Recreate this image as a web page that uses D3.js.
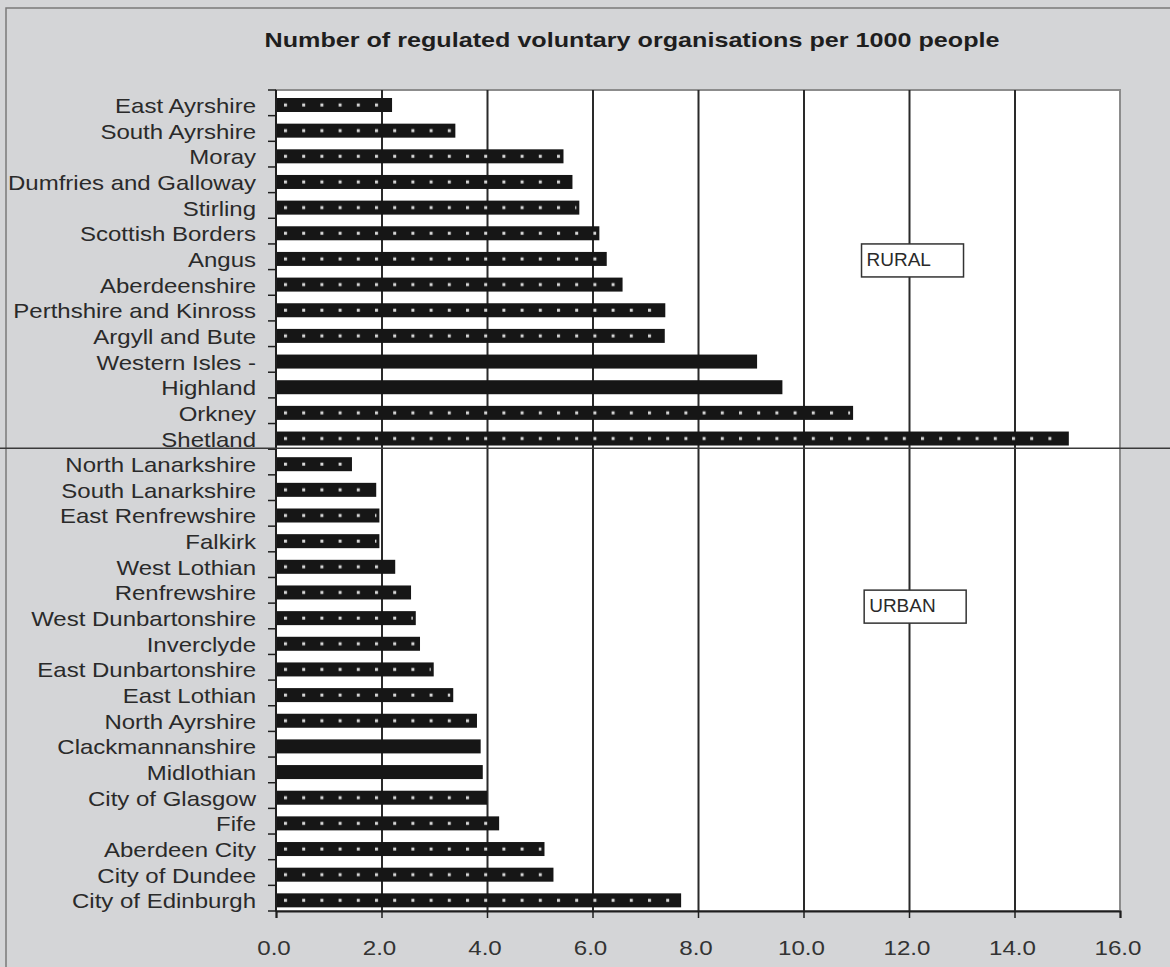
<!DOCTYPE html>
<html>
<head>
<meta charset="utf-8">
<script src="https://cdn.jsdelivr.net/npm/d3@7/dist/d3.min.js"></script>
<style>
  html, body { margin: 0; padding: 0; background: #d4d5d7; }
  svg { display: block; }
</style>
</head>
<body>
<svg id="chart" width="1170" height="967"></svg>
<script>
// ---------------- DATA ----------------
const ruralNames = ["East Ayrshire", "South Ayrshire", "Moray", "Dumfries and Galloway", "Stirling",
  "Scottish Borders", "Angus", "Aberdeenshire", "Perthshire and Kinross", "Argyll and Bute",
  "Western Isles -", "Highland", "Orkney", "Shetland"];
const ruralValues = [2.2, 3.4, 5.45, 5.62, 5.75, 6.13, 6.27, 6.57, 7.38, 7.37, 9.12, 9.6, 10.94, 15.03];

const urbanNames = ["North Lanarkshire", "South Lanarkshire", "East Renfrewshire", "Falkirk", "West Lothian",
  "Renfrewshire", "West Dunbartonshire", "Inverclyde", "East Dunbartonshire", "East Lothian",
  "North Ayrshire", "Clackmannanshire", "Midlothian", "City of Glasgow", "Fife", "Aberdeen City",
  "City of Dundee", "City of Edinburgh"];
const urbanValues = [1.44, 1.9, 1.96, 1.96, 2.26, 2.56, 2.65, 2.73, 2.99, 3.36, 3.81, 3.88, 3.92, 4.0, 4.23, 5.09, 5.26, 7.68];

const xTicks = [0, 2, 4, 6, 8, 10, 12, 14, 16];
const titleText = "Number of regulated voluntary organisations per 1000 people";
const groupLabels = ["RURAL", "URBAN"];

// ---------------- BUILD ----------------
const rows = ruralNames.map((n, i) => ({ name: n, value: ruralValues[i], group: "RURAL" }))
  .concat(urbanNames.map((n, i) => ({ name: n, value: urbanValues[i], group: "URBAN" })));
const solidBars = new Set(["Western Isles -", "Highland", "Clackmannanshire", "Midlothian"]);

const svg = d3.select("#chart");
const W = 1170, H = 967;
const plot = { left: 276, right: 1120, top: 90, bottom: 911 };

const x = d3.scaleLinear().domain([0, 16]).range([plot.left, plot.right]);
const y = d3.scaleBand().domain(rows.map(d => d.name)).range([plot.top, plot.bottom]).padding(0);
const bw = y.bandwidth();

// background + outer frame
svg.append("rect").attr("x", 0).attr("y", 0).attr("width", W).attr("height", H).attr("fill", "#d4d5d7");
svg.append("path").attr("d", `M6,${H} L6,8 L${W},8`).attr("fill", "none").attr("stroke", "#7a7a7a").attr("stroke-width", 1.5);

// title
svg.append("text")
  .attr("x", 632).attr("y", 47)
  .attr("text-anchor", "middle")
  .attr("font-family", "Liberation Sans, Arial, sans-serif")
  .attr("font-weight", "bold")
  .attr("font-size", 21)
  .attr("fill", "#1e1e1e")
  .attr("textLength", 735).attr("lengthAdjust", "spacingAndGlyphs")
  .text(titleText);

// plot area
svg.append("rect")
  .attr("x", plot.left).attr("y", plot.top)
  .attr("width", plot.right - plot.left).attr("height", plot.bottom - plot.top)
  .attr("fill", "#ffffff").attr("stroke", "#8c8c8c").attr("stroke-width", 2);

// gridlines via axis
const grid = svg.append("g")
  .attr("transform", `translate(0,${plot.bottom})`)
  .call(d3.axisBottom(x).tickValues(xTicks.filter(t => t > 0 && t < 16)).tickSize(-(plot.bottom - plot.top)).tickFormat(""));
grid.select(".domain").remove();
grid.selectAll("line").attr("stroke", "#2a2a2a").attr("stroke-width", 2);

// pattern for dotted bars
const defs = svg.append("defs");
const pat = defs.append("pattern")
  .attr("id", "dots").attr("patternUnits", "userSpaceOnUse")
  .attr("width", 18.2).attr("height", bw)
  .attr("x", x(0) + 8).attr("y", plot.top);
pat.append("rect").attr("x", 0).attr("y", 13.5).attr("width", 3).attr("height", 3).attr("fill", "#d8d8d8");

// bars
const barTop = 8, barH = 14;
const bars = svg.append("g");
bars.selectAll("rect.bar").data(rows).join("rect")
  .attr("class", "bar")
  .attr("x", x(0))
  .attr("y", d => y(d.name) + barTop)
  .attr("width", d => x(d.value) - x(0))
  .attr("height", barH)
  .attr("fill", "#161616");
bars.selectAll("rect.dot").data(rows.filter(d => !solidBars.has(d.name))).join("rect")
  .attr("class", "dot")
  .attr("x", x(0))
  .attr("y", d => y(d.name) + barTop)
  .attr("width", d => x(d.value) - x(0) - 3)
  .attr("height", barH)
  .attr("fill", "url(#dots)");

// x axis
const xAxis = svg.append("g")
  .attr("transform", `translate(0,${plot.bottom})`)
  .call(d3.axisBottom(x).tickValues(xTicks).tickSize(7).tickFormat(""));
xAxis.select(".domain").attr("stroke", "#1e1e1e").attr("stroke-width", 2);
xAxis.selectAll(".tick line").attr("stroke", "#1e1e1e").attr("stroke-width", 1.5);

// x tick labels (slightly wide font)
svg.append("g").selectAll("text").data(xTicks).join("text")
  .attr("transform", d => `translate(${x(d) - 2},955) scale(1.15,1)`)
  .attr("text-anchor", "middle")
  .attr("font-family", "Liberation Sans, Arial, sans-serif")
  .attr("font-size", 21)
  .attr("fill", "#333333")
  .text(d => d3.format(".1f")(d));

// y axis line + boundary ticks
svg.append("line")
  .attr("x1", x(0)).attr("x2", x(0)).attr("y1", plot.top).attr("y2", plot.bottom)
  .attr("stroke", "#1e1e1e").attr("stroke-width", 2);
const boundaries = rows.map(d => y(d.name)).concat([y(rows[rows.length - 1].name) + bw]);
svg.append("g").selectAll("line").data(boundaries).join("line")
  .attr("x1", x(0) - 8).attr("x2", x(0)).attr("y1", d => d).attr("y2", d => d)
  .attr("stroke", "#1e1e1e").attr("stroke-width", 1.5);

// category labels (horizontally widened)
const labG = svg.append("g").attr("transform", "translate(256,0) scale(1.2,1)");
labG.selectAll("text").data(rows).join("text")
  .attr("x", 0)
  .attr("y", d => y(d.name) + 23)
  .attr("text-anchor", "end")
  .attr("font-family", "Liberation Sans, Arial, sans-serif")
  .attr("font-size", 20)
  .attr("fill", "#2a2a2a")
  .text(d => d.name);

// divider between rural and urban
const divY = y(urbanNames[0]) - 1;
svg.append("line")
  .attr("x1", 0).attr("x2", W).attr("y1", divY).attr("y2", divY)
  .attr("stroke", "#3a3a3a").attr("stroke-width", 1.5);

// group label boxes
const boxes = [
  { label: groupLabels[0], xv: 11.1, anchor: "Angus", dy: 0 },
  { label: groupLabels[1], xv: 11.15, anchor: "West Dunbartonshire", dy: -13 }
];
boxes.forEach(b => {
  const bx = x(b.xv), by = y(b.anchor) + b.dy;
  svg.append("rect").attr("x", bx).attr("y", by).attr("width", 102).attr("height", 33)
    .attr("fill", "#ffffff").attr("stroke", "#333").attr("stroke-width", 1.5);
  svg.append("text").attr("x", bx + 5).attr("y", by + 22)
    .attr("font-family", "Liberation Sans, Arial, sans-serif")
    .attr("font-size", 19).attr("fill", "#2a2a2a")
    .text(b.label);
});
</script>
</body>
</html>
